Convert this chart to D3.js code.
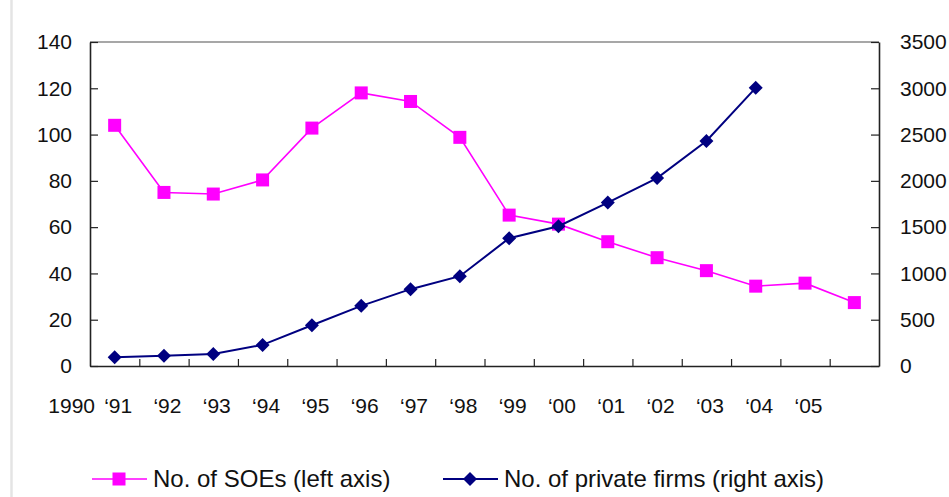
<!DOCTYPE html>
<html>
<head>
<meta charset="utf-8">
<script src="https://cdn.jsdelivr.net/npm/d3@7"></script>
<style>
  html, body { margin: 0; padding: 0; background: #fff; }
  svg { display: block; font-family: "Liberation Sans", Arial, sans-serif; }
</style>
</head>
<body>
<svg id="chart" width="949" height="497"></svg>
<script>
// ---- data ----
const xLabels = ["‘91","‘92","‘93","‘94","‘95","‘96","‘97","‘98","‘99","‘00","‘01","‘02","‘03","‘04","‘05",""];
const startLabel = "1990";
const soeValues = [104, 75, 74.3, 80.4, 102.8, 118, 114.3, 98.8, 65.2, 61.3, 53.7, 46.8, 41.2, 34.5, 35.8, 27.4];
const privateValues = [95, 110, 130, 228, 440, 650, 830, 970, 1380, 1510, 1765, 2030, 2430, 3005];
const leftTicks = [0, 20, 40, 60, 80, 100, 120, 140];
const rightTicks = [0, 500, 1000, 1500, 2000, 2500, 3000, 3500];
const seriesNames = ["No. of SOEs (left axis)", "No. of private firms (right axis)"];

(function () {
// ---- layout ----
const svg = d3.select("#chart");
const pL = 90, pR = 879, pT = 42, pB = 366;
const SOE_COLOR = "#ff00ff", PRIV_COLOR = "#000080";
const AX_FONT = 21;

const x = d3.scaleLinear().domain([0, xLabels.length]).range([pL, pR]);
const yL = d3.scaleLinear().domain([0, 140]).range([pB, pT]);
const yR = d3.scaleLinear().domain([0, 3500]).range([pB, pT]);

// faint frame line at left
svg.append("line").attr("x1", 11.5).attr("x2", 11.5).attr("y1", 0).attr("y2", 497)
  .attr("stroke", "#e4e4e4").attr("stroke-width", 2.5);

// top border
svg.append("line").attr("x1", pL).attr("x2", pR).attr("y1", pT).attr("y2", pT)
  .attr("stroke", "#8a8a8a").attr("stroke-width", 1.5);

// bottom axis (ticks at band boundaries)
const xAxis = d3.axisBottom(x)
  .tickValues(d3.range(1, xLabels.length))
  .tickSizeInner(-7).tickSizeOuter(0).tickFormat("");
const gx = svg.append("g").attr("transform", `translate(0,${pB})`).call(xAxis);
gx.select(".domain").attr("stroke", "#222").attr("stroke-width", 1.6);
gx.selectAll(".tick line").attr("stroke", "#222").attr("stroke-width", 1.2);

// x labels
svg.append("g").attr("font-size", AX_FONT).attr("fill", "#111")
  .selectAll("text").data(xLabels).join("text")
  .attr("x", (d, i) => x(i + 0.5) + 3.5)
  .attr("y", 413)
  .attr("text-anchor", "middle")
  .text(d => d);
svg.append("text").attr("x", x(0) + 5).attr("y", 413)
  .attr("text-anchor", "end").attr("font-size", AX_FONT).attr("fill", "#111").text(startLabel);

// left axis
const gl = svg.append("g").attr("transform", `translate(${pL},0)`)
  .call(d3.axisLeft(yL).tickValues(leftTicks).tickSizeInner(-8).tickSizeOuter(0).tickPadding(18).tickFormat(d3.format("d")));
gl.attr("font-size", AX_FONT).attr("font-family", "Liberation Sans, Arial, sans-serif");
gl.select(".domain").attr("stroke", "#222").attr("stroke-width", 1.6);
gl.selectAll(".tick line").attr("stroke", "#222").attr("stroke-width", 1.2);
gl.selectAll(".tick text").attr("fill", "#111");

// right axis
const gr = svg.append("g").attr("transform", `translate(${pR},0)`)
  .call(d3.axisRight(yR).tickValues(rightTicks).tickSizeInner(-8).tickSizeOuter(0).tickPadding(21).tickFormat(d3.format("d")));
gr.attr("font-size", AX_FONT).attr("font-family", "Liberation Sans, Arial, sans-serif");
gr.select(".domain").attr("stroke", "#222").attr("stroke-width", 1.6);
gr.selectAll(".tick line").attr("stroke", "#222").attr("stroke-width", 1.2);
gr.selectAll(".tick text").attr("fill", "#111");

// SOE line
const soeLine = d3.line().x((d, i) => x(i + 0.5)).y(d => yL(d));
svg.append("path").datum(soeValues).attr("d", soeLine)
  .attr("fill", "none").attr("stroke", SOE_COLOR).attr("stroke-width", 1.6);
svg.append("g").selectAll("rect").data(soeValues).join("rect")
  .attr("x", (d, i) => x(i + 0.5) - 6.5).attr("y", d => yL(d) - 6.5)
  .attr("width", 13).attr("height", 13).attr("fill", SOE_COLOR);

// private line
const privLine = d3.line().x((d, i) => x(i + 0.5)).y(d => yR(d));
svg.append("path").datum(privateValues).attr("d", privLine)
  .attr("fill", "none").attr("stroke", PRIV_COLOR).attr("stroke-width", 2);
const diamond = "M0,-7L7,0L0,7L-7,0Z";
svg.append("g").selectAll("path").data(privateValues).join("path")
  .attr("transform", (d, i) => `translate(${x(i + 0.5)},${yR(d)})`)
  .attr("d", diamond).attr("fill", PRIV_COLOR);

// legend
const lg = svg.append("g");
lg.append("line").attr("x1", 92).attr("x2", 147).attr("y1", 479).attr("y2", 479)
  .attr("stroke", SOE_COLOR).attr("stroke-width", 1.6);
lg.append("rect").attr("x", 119 - 6.5).attr("y", 479 - 6.5).attr("width", 13).attr("height", 13).attr("fill", SOE_COLOR);
lg.append("text").attr("x", 153).attr("y", 487).attr("font-size", 24).attr("fill", "#111").text(seriesNames[0]);

lg.append("line").attr("x1", 443).attr("x2", 498).attr("y1", 479).attr("y2", 479)
  .attr("stroke", PRIV_COLOR).attr("stroke-width", 2);
lg.append("path").attr("transform", "translate(470,479)").attr("d", diamond).attr("fill", PRIV_COLOR);
lg.append("text").attr("x", 504).attr("y", 487).attr("font-size", 24).attr("fill", "#111").text(seriesNames[1]);
})();
</script>
</body>
</html>
